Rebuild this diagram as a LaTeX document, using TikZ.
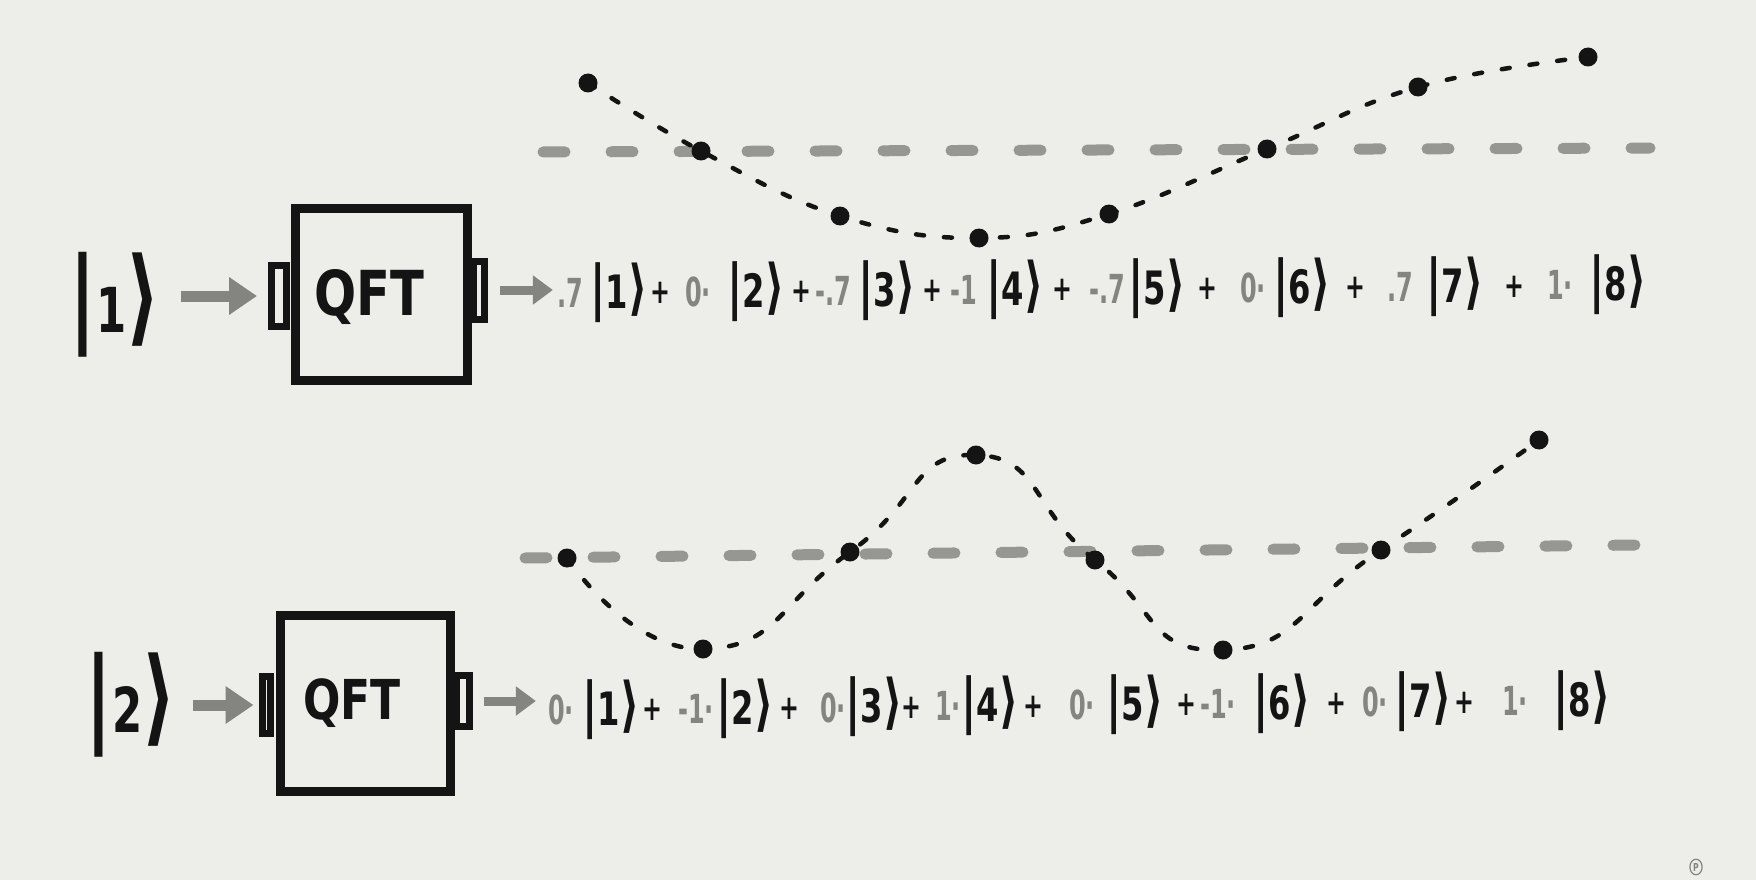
\documentclass[tikz,border=0pt]{standalone}
\usepackage{fontspec}
\usetikzlibrary{arrows.meta,shapes.geometric}
\newfontfamily\hand[FakeStretch=0.7]{DejaVu Sans Bold}
\newfontfamily\cfont[FakeStretch=0.6]{DejaVu Sans Bold}
\newfontfamily\qfont[FakeStretch=0.8]{DejaVu Sans Bold}
\definecolor{bg}{RGB}{237,237,233}
\definecolor{ink}{RGB}{20,20,20}
\definecolor{pen}{RGB}{132,132,129}
\definecolor{dashgray}{RGB}{150,150,147}
\newcommand\eket[1]{{\fontsize{60}{60}\selectfont|}{\fontsize{46}{46}\selectfont#1}{\fontsize{60}{60}\selectfont⟩}}
\newcommand\bket[1]{{\fontsize{105}{105}\selectfont|}{\fontsize{62}{62}\selectfont#1}{\fontsize{105}{105}\selectfont⟩}}
\begin{document}
\begin{tikzpicture}[x=1pt,y=-1pt,
  ket/.style={inner sep=0pt,text=ink,font=\hand},
  coef/.style={inner sep=0pt,text=pen,font={\cfont\fontsize{40}{40}\selectfont}},
  plus/.style={inner sep=0pt,text=ink,font={\hand\fontsize{34}{34}\selectfont}},
  qbox/.style={draw=ink,line width=9pt,inner sep=0pt},
  qtext/.style={inner sep=0pt,text=ink},
  port/.style={draw=ink,line width=7pt,inner sep=0pt},
  dot/.style={circle,fill=ink,inner sep=0pt,minimum size=19pt},
  wave/.style={draw=ink,line width=4.5pt,dash pattern=on 8pt off 20pt,line cap=round},
  midline/.style={draw=dashgray,line width=11pt,dash pattern=on 22pt off 46pt,line cap=round},
  garrow/.style={draw=pen,line width=11pt,-{Triangle[length=28pt,width=36pt]}},
  garrowb/.style={draw=pen,line width=9pt,-{Triangle[length=20pt,width=28pt]}}]
\fill[bg] (0,0) rectangle (1756,880);
\useasboundingbox (0,0) rectangle (1756,880);

% ---------- top row ----------
\node[ket] (in1) at (115,305) {\bket{1}};
\node[qbox,minimum width=172pt,minimum height=172pt] (box1) at (381,294) {};
\node[qtext,font={\qfont\fontsize{62}{62}\selectfont}] (q1) at (369,297) {QFT};
\node[port,minimum width=15pt,minimum height=61pt] (pl1) at (279,296) {};
\node[port,minimum width=11pt,minimum height=58pt] (pr1) at (479,290) {};

\coordinate (tm0) at (543,152);
\coordinate (tm1) at (1650,148);
\draw[midline] (tm0) -- (tm1);

\foreach \n/\x/\y in {1/588/83,2/701/151,3/840/216,4/979/238,5/1109/214,6/1267/149,7/1418/87,8/1588/57}
  \coordinate (tw\n) at (\x,\y);
\draw[wave] plot[smooth,tension=0.7] coordinates {(tw1) (tw2) (tw3) (tw4) (tw5) (tw6) (tw7) (tw8)};
\foreach \n in {1,...,8} \node[dot] (td\n) at (tw\n) {};

\foreach \c/\cx/\k/\kx [count=\i] in {.7/570/1/619, 0·/698/2/756, -.7/833/3/887, -1/964/4/1015, -.7/1107/5/1157, 0·/1253/6/1302, .7/1400/7/1455, 1·/1560/8/1618}{
  \pgfmathsetmacro\cy{293-(\cx-560)*0.0076}
  \pgfmathsetmacro\ky{293-(\kx-560)*0.0076}
  \node[coef] (tc\i) at (\cx,\cy) {\c};
  \node[ket] (tk\i) at (\kx,\ky) {\eket{\k}};
}
\foreach \px [count=\i] in {660,801,932,1062,1207,1355,1514}{
  \pgfmathsetmacro\py{294-(\px-560)*0.0076}
  \node[plus] (tp\i) at (\px,\py) {+};
}
\draw[garrow,shorten <=20pt,shorten >=11pt] (in1.east |- pl1.west) -- (pl1.west);
\draw[garrowb,shorten <=12pt,shorten >=4pt] (pr1.east) -- (pr1.east -| tc1.west);

% ---------- bottom row ----------
\node[ket] (in2) at (131,705) {\bket{2}};
\node[qbox,minimum width=170pt,minimum height=176pt] (box2) at (365,703) {};
\node[qtext,font={\qfont\fontsize{55}{55}\selectfont}] (q2) at (352,703) {QFT};
\node[port,minimum width=8pt,minimum height=57pt] (pl2) at (266,705) {};
\node[port,minimum width=13pt,minimum height=51pt] (pr2) at (463,701) {};

\coordinate (bm0) at (525,558);
\coordinate (bm1) at (1635,545);
\draw[midline] (bm0) -- (bm1);

\foreach \n/\x/\y in {1/567/558,2/703/649,3/850/552,4/976/455,5/1095/560,6/1223/650,7/1381/550,8/1539/440}
  \coordinate (bw\n) at (\x,\y);
\draw[wave] plot[smooth,tension=0.95] coordinates {(bw1) (bw2) (bw3) (bw4) (bw5) (bw6) (bw7) (bw8)};
\foreach \n in {1,...,8} \node[dot] (bd\n) at (bw\n) {};

\foreach \c/\cx/\k/\kx [count=\i] in {0·/561/1/611, -1·/696/2/745, 0·/833/3/874, 1·/948/4/990, 0·/1082/5/1135, -1·/1218/6/1282, 0·/1375/7/1423, 1·/1515/8/1582}{
  \pgfmathsetmacro\cy{710-(\cx-560)*0.0094}
  \pgfmathsetmacro\ky{710-(\kx-560)*0.0094}
  \node[coef] (bc\i) at (\cx,\cy) {\c};
  \node[ket] (bk\i) at (\kx,\ky) {\eket{\k}};
}
\foreach \px [count=\i] in {652,789,911,1033,1186,1336,1464}{
  \pgfmathsetmacro\py{711-(\px-560)*0.0094}
  \node[plus] (bp\i) at (\px,\py) {+};
}
\draw[garrow,shorten <=16pt,shorten >=5pt] (in2.east |- pl2.west) -- (pl2.west);
\draw[garrowb,shorten <=11pt,shorten >=12pt] (pr2.east) -- (pr2.east -| bc1.west);

% watermark
\node[ellipse,draw=pen,line width=1.2pt,inner sep=1.5pt,text=pen,font={\hand\fontsize{11}{11}\selectfont}] (wm) at (1696,867) {P};
\end{tikzpicture}
\end{document}
